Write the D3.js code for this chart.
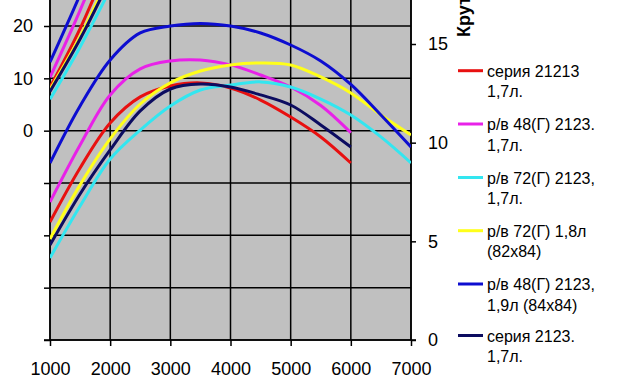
<!DOCTYPE html>
<html><head><meta charset="utf-8">
<script src="https://cdn.jsdelivr.net/npm/d3@7"></script>
<style>
body{margin:0;background:#fff}
svg{display:block}
text{font-family:Arial,"Liberation Sans",sans-serif;fill:#000}
</style>
</head><body>
<svg id="c" width="622" height="383"></svg>
<script>
// ---- data ----
const rpm = [1000,1500,2000,2500,3000,3500,4000,4500,5000,5500,6000,6500,7000];
const xTickValues = [1000,2000,3000,4000,5000,6000,7000];
const leftTickValues = [-40,-30,-20,-10,0,10,20];
const leftGridValues = [-40,-30,-20,-10,0,10,20,30,40];
const rightTickValues = [0,5,10,15];
const powerRpm = [1000,1500,2000];

const seriesNames = [
  ["серия 21213","1,7л."],
  ["р/в 48(Г) 2123.","1,7л."],
  ["р/в 72(Г) 2123,","1,7л."],
  ["р/в 72(Г) 1,8л","(82x84)"],
  ["р/в 48(Г) 2123,","1,9л (84x84)"],
  ["серия 2123.","1,7л."]
];
const seriesColors = ["#e81010","#e822e8","#33e6f0","#ffff1a","#0d0dd0","#0c0c60"];

// torque, kgf·m (right axis)
const torqueRed     = [5.98,8.72,11.0,12.32,12.87,13.03,12.77,12.16,11.30,10.29,8.97];
const torqueMagenta = [6.99,9.88,12.42,13.74,14.14,14.19,13.94,13.43,12.82,11.88,10.50];
const torqueCyan    = [4.16,6.79,9.17,10.64,11.86,12.67,12.92,13.08,12.82,12.21,11.40,10.29,8.97];
const torqueYellow  = [5.12,7.86,10.19,11.96,13.03,13.63,13.94,14.04,13.94,13.33,12.52,11.40,10.39];
const torqueBlue    = [8.97,11.86,14.19,15.56,15.91,16.04,15.91,15.56,14.95,14.14,12.95,11.40,9.78];
const torqueNavy    = [4.81,7.40,9.63,11.61,12.72,12.97,12.82,12.42,11.91,10.90,9.78];

// power, hp (left axis) – only the start is visible
const powerRed     = [8.3,19.5,33];
const powerMagenta = [10.2,23,37];
const powerCyan    = [6.0,16,27];
const powerYellow  = [7.9,18,30];
const powerBlue    = [13.1,26,40];
const powerNavy    = [7.5,17.5,29];

const torques = [torqueRed,torqueMagenta,torqueCyan,torqueYellow,torqueBlue,torqueNavy];
const powers  = [powerRed,powerMagenta,powerCyan,powerYellow,powerBlue,powerNavy];

// ---- drawing ----
const svg = d3.select("#c");
const X0 = 50, X1 = 411, YB = 340, YT = -120;
const x  = d3.scaleLinear([1000,7000],[X0,X1]);
const yL = d3.scaleLinear([-40,20],[YB,26]);
const yR = d3.scaleLinear([0,15],[YB,44]);

svg.append("defs").append("clipPath").attr("id","pc")
  .append("rect").attr("x",X0).attr("y",YT).attr("width",X1-X0).attr("height",YB-YT);

svg.append("rect").attr("x",X0).attr("y",YT).attr("width",X1-X0).attr("height",YB-YT)
  .attr("fill","#c0c0c0");

const grid = svg.append("g").attr("stroke","#000").attr("stroke-width",1.5);
leftGridValues.forEach(v=>{
  grid.append("line").attr("x1",X0).attr("x2",X1).attr("y1",yL(v)).attr("y2",yL(v));
});
xTickValues.forEach(v=>{
  grid.append("line").attr("x1",x(v)).attr("x2",x(v)).attr("y1",YT).attr("y2",YB);
});

// axes
const fs = "18px";
const gx = svg.append("g").attr("transform",`translate(0,${YB})`)
  .call(d3.axisBottom(x).tickValues(xTickValues).tickSize(6).tickSizeOuter(0).tickPadding(16).tickFormat(d3.format("d")));
const gl = svg.append("g").attr("transform",`translate(${X0},0)`)
  .call(d3.axisLeft(yL).tickValues(leftTickValues).tickSize(6).tickSizeOuter(0).tickPadding(11)
    .tickFormat(d=> d>=0 ? d : ""));
const gr = svg.append("g").attr("transform",`translate(${X1},0)`)
  .call(d3.axisRight(yR).tickValues(rightTickValues).tickSize(5).tickSizeOuter(0).tickPadding(12));
[gx,gl,gr].forEach(g=>{
  g.select(".domain").remove();
  g.selectAll("line").attr("stroke","#000").attr("stroke-width",1.5);
  g.selectAll("text").attr("font-size",fs).attr("fill","#000").style("font-family","Arial, 'Liberation Sans', sans-serif");
});
gx.selectAll("text").attr("dy","0.71em");

// frame lines
svg.append("line").attr("x1",X0).attr("x2",X0).attr("y1",YT).attr("y2",YB).attr("stroke","#000").attr("stroke-width",1.5);
svg.append("line").attr("x1",X1).attr("x2",X1).attr("y1",YT).attr("y2",YB).attr("stroke","#000").attr("stroke-width",1.5);
svg.append("line").attr("x1",X0-6).attr("x2",X1+5).attr("y1",YB).attr("y2",YB).attr("stroke","#000").attr("stroke-width",1.5);

// series
const plot = svg.append("g").attr("clip-path","url(#pc)");
const lineT = d3.line().x((d,i)=>x(rpm[i])).y(d=>yR(d)).curve(d3.curveCatmullRom.alpha(0.5));
const lineP = d3.line().x((d,i)=>x(powerRpm[i])).y(d=>yL(d)).curve(d3.curveCatmullRom.alpha(0.5));
powers.forEach((p,i)=>{
  plot.append("path").attr("d",lineP(p)).attr("fill","none")
    .attr("stroke",seriesColors[i]).attr("stroke-width",3).attr("stroke-linejoin","round");
});
torques.forEach((t,i)=>{
  plot.append("path").attr("d",lineT(t)).attr("fill","none")
    .attr("stroke",seriesColors[i]).attr("stroke-width",3).attr("stroke-linejoin","round");
});

// right axis title (partly outside the frame, as in the original crop)
svg.append("text").attr("transform","translate(470,37) rotate(-90)")
  .attr("font-size","18px").attr("font-weight","bold").text("Крутящий момент, кгс·м");

// legend
const legY = [70.7,124,177.5,230.7,284,335.5];
seriesNames.forEach((n,i)=>{
  const g = svg.append("g");
  g.append("line").attr("x1",458).attr("x2",483).attr("y1",legY[i]).attr("y2",legY[i])
    .attr("stroke",seriesColors[i]).attr("stroke-width",3);
  const t = g.append("text").attr("x",487).attr("y",legY[i]+6).attr("font-size","16px");
  t.append("tspan").attr("x",487).text(n[0]);
  t.append("tspan").attr("x",487).attr("dy",20.5).text(n[1]);
});
</script>
</body></html>
